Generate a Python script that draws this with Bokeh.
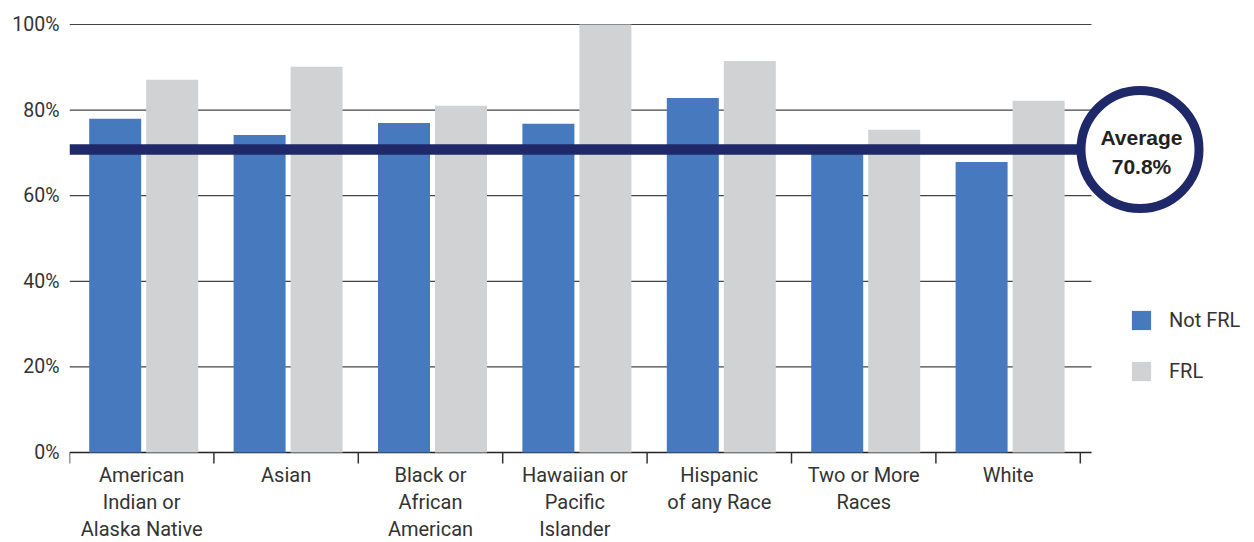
import numpy as np
from bokeh.plotting import figure
from bokeh.models import ColumnDataSource, Range1d, FixedTicker, Legend, LegendItem
from bokeh.core.properties import value
from bokeh.embed import file_html
from bokeh.resources import INLINE

# ---- data ----
categories = ["American Indian or Alaska Native", "Asian", "Black or African American",
              "Hawaiian or Pacific Islander", "Hispanic of any Race", "Two or More Races", "White"]
category_labels = ["American\nIndian or\nAlaska Native", "Asian", "Black or\nAfrican\nAmerican",
                   "Hawaiian or\nPacific\nIslander", "Hispanic\nof any Race", "Two or More\nRaces", "White"]
not_frl = [78.0, 74.2, 77.0, 76.8, 82.8, 70.7, 67.9]
frl = [87.1, 90.1, 81.0, 100.0, 91.5, 75.4, 82.2]
average = 70.8
average_label = ["Average", "70.8%"]
y_ticks = [0, 20, 40, 60, 80, 100]
y_tick_labels = ["0%", "20%", "40%", "60%", "80%", "100%"]
series_names = ["Not FRL", "FRL"]

# ---- styling / geometry ----
W, H = 1254, 542
LEFT = 69
PX_CAT = 144.4
BOTTOM_PX, TOP_PX = 452, 24
PX_PCT = (BOTTOM_PX - TOP_PX) / 100.0
BLUE = "#4779BE"
GRAY = "#D1D2D4"
NAVY = "#1F2868"
TXT = "#333333"
FONT = "Roboto"

x_end = (W - LEFT) / PX_CAT
y_start = -(H - BOTTOM_PX) / PX_PCT
y_end = 100 + TOP_PX / PX_PCT
grid_end = (1091 - LEFT) / PX_CAT
circle_x = (1139.5 - LEFT) / PX_CAT

n = len(categories)
centers = np.arange(n) + 0.5
bar_centers = centers + 2 / PX_CAT
off = 28.5 / PX_CAT
bar_w = 52 / PX_CAT

p = figure(width=W, height=H, x_range=Range1d(0, x_end), y_range=Range1d(y_start, y_end),
           output_backend="svg", toolbar_location=None, x_axis_location=None,
           min_border_left=LEFT, min_border_right=0, min_border_top=0, min_border_bottom=0)
p.xgrid.visible = False
p.ygrid.visible = False
p.outline_line_color = None
p.background_fill_color = "white"
p.border_fill_color = "white"

ax = p.yaxis[0]
ax.ticker = FixedTicker(ticks=y_ticks)
ax.major_label_overrides = {t: l for t, l in zip(y_ticks, y_tick_labels)}
ax.axis_line_color = None
ax.major_tick_line_color = None
ax.minor_tick_line_color = None
ax.major_tick_out = 0
ax.major_tick_in = 0
ax.major_label_standoff = 10
ax.major_label_text_font = FONT
ax.major_label_text_font_size = "19.5px"
ax.major_label_text_color = TXT

# gridlines (behind bars)
gy = [t for t in y_ticks if t > 0]
p.segment(x0=[0] * len(gy), x1=[grid_end] * len(gy), y0=gy, y1=gy, line_color="#444444", line_width=1.2)
# baseline
p.segment(x0=[0], x1=[grid_end], y0=[0], y1=[0], line_color="#222222", line_width=1.5)
# category boundary ticks
bounds = np.arange(n + 1)
tick_len = 11 / PX_PCT
p.segment(x0=bounds, x1=bounds, y0=[0] * (n + 1), y1=[-tick_len] * (n + 1), line_color="#333333", line_width=1.5)

src = ColumnDataSource(dict(xb=bar_centers - off, xg=bar_centers + off, nf=not_frl, f=frl))
r1 = p.vbar(x="xb", top="nf", bottom=0, width=bar_w, source=src, fill_color=BLUE, line_color=None)
r2 = p.vbar(x="xg", top="f", bottom=0, width=bar_w, source=src, fill_color=GRAY, line_color=None)

# average line and badge
p.segment(x0=[0], x1=[circle_x], y0=[average], y1=[average], line_color=NAVY, line_width=10.7)
p.scatter(x=[circle_x], y=[average], marker="circle", size=118, fill_color="white",
          line_color=NAVY, line_width=9)
p.text(x=[circle_x], y=[average], text=[average_label[0]], text_font=value("Liberation Sans"),
       text_font_style="bold", text_font_size="21px", text_align="center", text_baseline="middle",
       x_offset=1.5, y_offset=-12, text_color="#222222")
p.text(x=[circle_x], y=[average], text=[average_label[1]], text_font=value("Liberation Sans"),
       text_font_style="bold", text_font_size="21px", text_align="center", text_baseline="middle",
       x_offset=1.5, y_offset=17, text_color="#222222")

# category labels
p.text(x=centers, y=[0] * n, text=category_labels, text_font=value(FONT), text_font_size="20px",
       text_align="center", text_baseline="top", y_offset=10, text_line_height=1.14, text_color=TXT)

legend = Legend(items=[LegendItem(label=series_names[0], renderers=[r1]),
                       LegendItem(label=series_names[1], renderers=[r2])],
                location=(1060, H - 383), orientation="vertical", glyph_width=24, glyph_height=24,
                label_standoff=16, spacing=27, padding=0, margin=0, border_line_color=None,
                background_fill_alpha=0, label_text_font=FONT, label_text_font_size="20px",
                label_text_color=TXT)
p.add_layout(legend)

open("out.html", "w").write(file_html(p, INLINE))
